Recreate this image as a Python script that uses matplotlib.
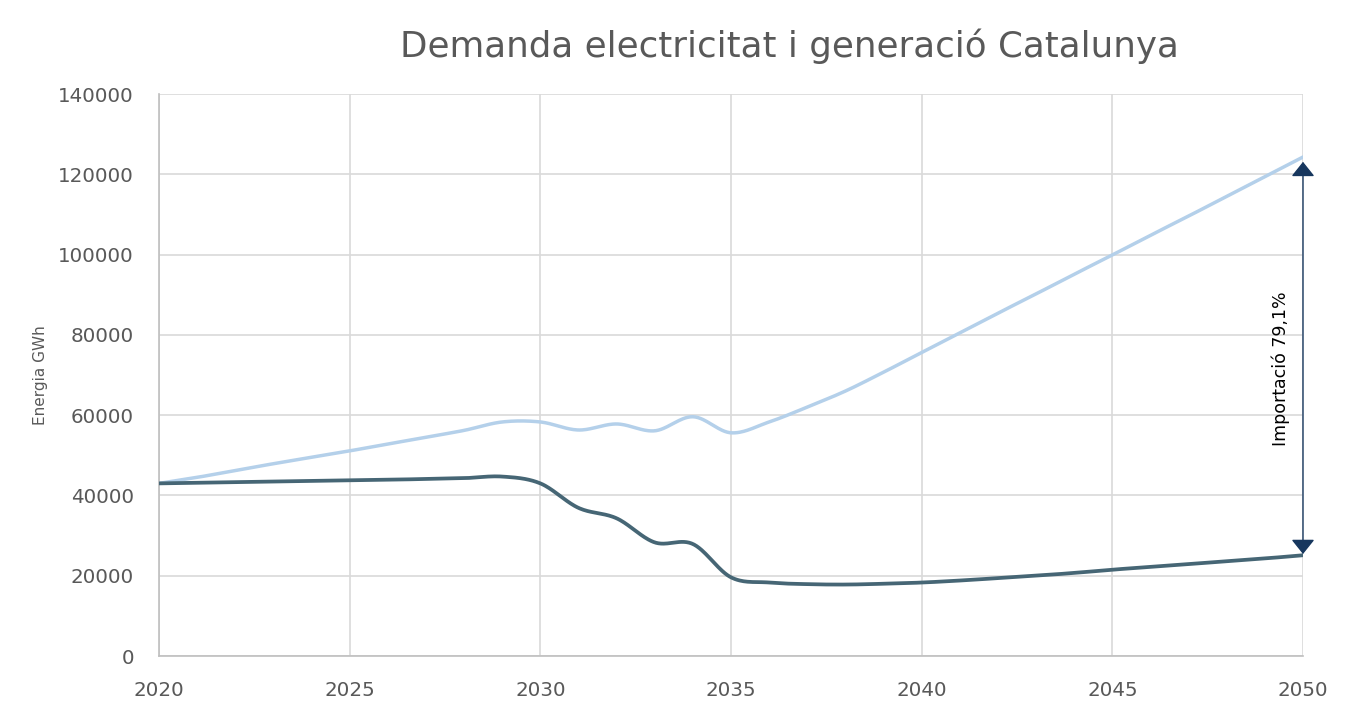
import numpy as np
import matplotlib
matplotlib.use("Agg")
import matplotlib.pyplot as plt

years = list(range(2020, 2051))
demanda = [43000, 44500, 46200, 47900, 49500, 51100, 52800, 54500, 56200, 58300,
           58300, 56300, 57800, 56100, 59600, 55600, 58300, 62000, 66000, 70700,
           75600, 80500, 85400, 90200, 95100, 99900, 104800, 109600, 114500, 119400, 124300]
generacio = [43000, 43150, 43300, 43450, 43600, 43750, 43900, 44100, 44300, 44700,
             43000, 36900, 34300, 28300, 27900, 19600, 18300, 17900, 17800, 18000,
             18300, 18800, 19400, 20000, 20700, 21500, 22200, 22900, 23600, 24300, 25100]
xticks = [2020, 2025, 2030, 2035, 2040, 2045, 2050]
yticks = [0, 20000, 40000, 60000, 80000, 100000, 120000, 140000]
title = "Demanda electricitat i generació Catalunya"
ylabel = "Energia GWh"
annot = "Importació 79,1%"


def smooth(x, y, n=30):
    x = np.asarray(x, float)
    y = np.asarray(y, float)
    px = np.concatenate([[2 * x[0] - x[1]], x, [2 * x[-1] - x[-2]]])
    py = np.concatenate([[2 * y[0] - y[1]], y, [2 * y[-1] - y[-2]]])
    xs, ys = [], []
    t = np.linspace(0, 1, n, endpoint=False)
    for i in range(1, len(px) - 2):
        p0, p1, p2, p3 = (np.array([px[j], py[j]]) for j in (i - 1, i, i + 1, i + 2))
        b1 = p1 + (p2 - p0) / 6
        b2 = p2 - (p3 - p1) / 6
        pts = ((1 - t) ** 3)[:, None] * p1 + (3 * (1 - t) ** 2 * t)[:, None] * b1 \
            + (3 * (1 - t) * t ** 2)[:, None] * b2 + (t ** 3)[:, None] * p2
        xs.append(pts[:, 0]); ys.append(pts[:, 1])
    xs.append([x[-1]]); ys.append([y[-1]])
    return np.concatenate(xs), np.concatenate(ys)


plt.rcParams['font.family'] = ['DejaVu Sans']
fig = plt.figure(figsize=(13.53, 7.16), dpi=100)
ax = fig.add_axes([159 / 1353, 1 - 656 / 716, (1303 - 159) / 1353, (656 - 94) / 716])

sx, sy = smooth(years, demanda)
ax.plot(sx, sy, color='#b4d0ea', lw=2.5, solid_capstyle='round', zorder=3)
gx, gy = smooth(years, generacio)
ax.plot(gx, gy, color='#466675', lw=2.7, solid_capstyle='round', zorder=4)

ax.set_xlim(2020, 2050)
ax.set_ylim(0, 140000)
ax.set_xticks(xticks)
ax.set_yticks(yticks)
ax.grid(True, color='#d9d9d9', lw=1.2)
ax.set_axisbelow(True)
for s in ['top', 'right']:
    ax.spines[s].set_visible(False)
for s in ['left', 'bottom']:
    ax.spines[s].set_color('#bfbfbf')
    ax.spines[s].set_linewidth(1.2)
ax.tick_params(length=0, labelsize=14.3, colors='#595959')
ax.tick_params(axis='y', pad=18)
ax.tick_params(axis='x', pad=18)
ax.set_ylabel(ylabel, fontsize=11, color='#595959', labelpad=7)

# annotation arrow
ax.annotate('', xy=(2050, demanda[-1] - 1200), xytext=(2050, generacio[-1] + 300),
            arrowprops=dict(arrowstyle='<|-|>,head_length=0.25,head_width=0.2',
                            color='#17375e', lw=1.0,
                            mutation_scale=36, shrinkA=0, shrinkB=0),
            zorder=6, annotation_clip=False)
ax.text(2049.42, 71500, annot, rotation=90, ha='center', va='center',
        fontsize=12.5, color='black')

fig.text(789 / 1353, 1 - 46 / 716, title, ha='center', va='center',
         fontsize=25.7, color='#595959')

fig.savefig('out.png', dpi=100, facecolor='white')
